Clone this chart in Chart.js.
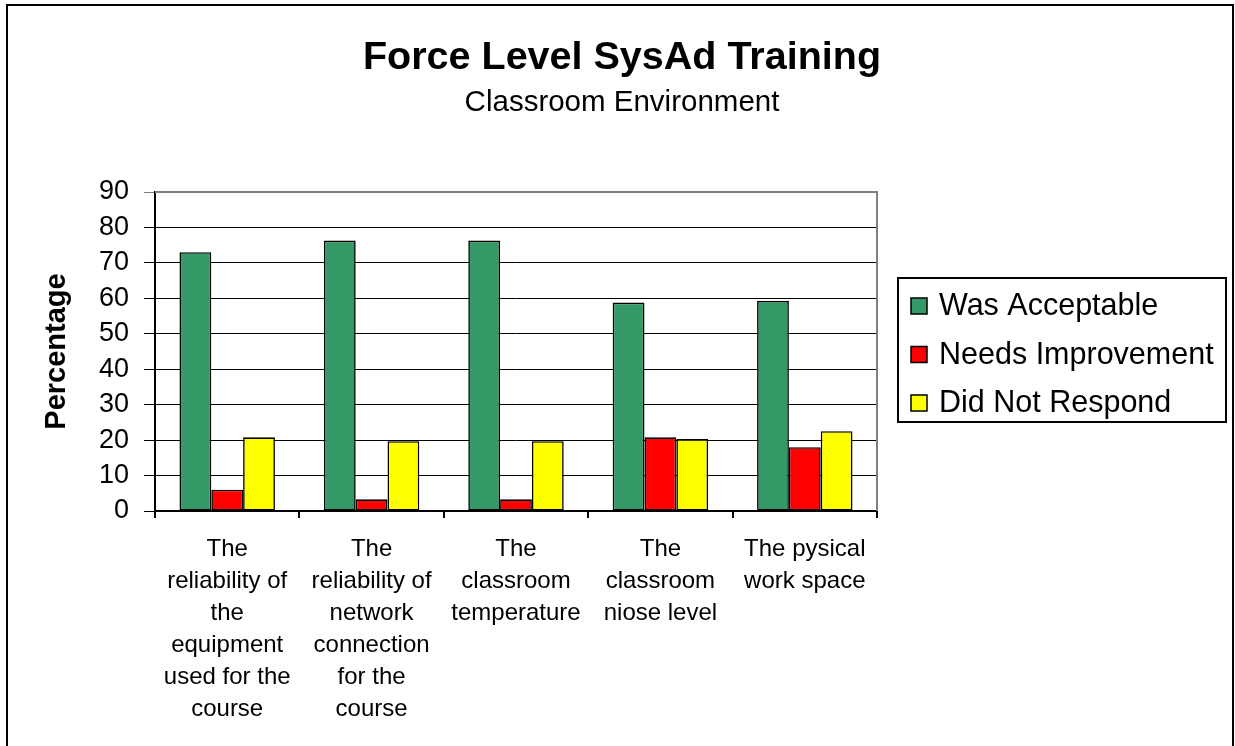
<!DOCTYPE html>
<html>
<head>
<meta charset="utf-8">
<title>Force Level SysAd Training</title>
<script src="https://cdn.jsdelivr.net/npm/chart.js@4/dist/chart.umd.min.js"></script>
<style>
  html, body { margin: 0; padding: 0; background: #fff; }
  #wrap { width: 1235px; height: 746px; }
</style>
</head>
<body>
<div id="wrap"><canvas id="myChart" width="1235" height="746"></canvas></div>
<script>
// categories (multi-line labels as in the original)
const categories = [
    ['The', 'reliability of', 'the', 'equipment', 'used for the', 'course'],
    ['The', 'reliability of', 'network', 'connection', 'for the', 'course'],
    ['The', 'classroom', 'temperature'],
    ['The', 'classroom', 'niose level'],
    ['The pysical', 'work space'],
];

const seriesNames = ['Was Acceptable', 'Needs Improvement', 'Did Not Respond'];

const wasAcceptable = [73, 76.3, 76.3, 58.8, 59.3];
const needsImprovement = [6, 3.3, 3.3, 20.8, 18];
const didNotRespond = [20.8, 19.7, 19.7, 20.3, 22.5];

const yTicks = [0, 10, 20, 30, 40, 50, 60, 70, 80, 90];

const titleText = 'Force Level SysAd Training';
const subtitleText = 'Classroom Environment';

const FONT = '"Liberation Sans", Arial, sans-serif';
const colors = ['#339966', '#ff0000', '#ffff00'];

// outer frame, titles, plot border and boxed legend
const frame = {
    id: 'frame',
    beforeDatasetsDraw(chart) {
        const { ctx, chartArea } = chart;
        ctx.save();
        ctx.strokeStyle = '#808080';
        ctx.lineWidth = 2;
        ctx.beginPath();
        ctx.moveTo(chartArea.left, chartArea.top);
        ctx.lineTo(chartArea.right, chartArea.top);
        ctx.lineTo(chartArea.right, chartArea.bottom);
        ctx.stroke();
        ctx.restore();
    },
    afterDraw(chart) {
        const ctx = chart.ctx;
        ctx.save();
        ctx.strokeStyle = '#000';
        ctx.lineWidth = 2;
        ctx.strokeRect(7, 5, 1226, 800);

        // titles, centred on the whole frame
        ctx.fillStyle = '#000';
        ctx.textAlign = 'center';
        ctx.textBaseline = 'middle';
        ctx.font = 'bold 39.5px ' + FONT;
        ctx.fillText(titleText, 622, 58);
        ctx.font = '29.5px ' + FONT;
        ctx.fillText(subtitleText, 622, 103);

        // legend
        ctx.strokeRect(898, 278, 328, 144);
        ctx.font = '30.5px ' + FONT;
        ctx.textAlign = 'left';
        chart.data.datasets.forEach((ds, i) => {
            const cy = 306 + i * 48.5;
            ctx.fillStyle = ds.backgroundColor;
            ctx.fillRect(911, cy - 8, 16, 16);
            ctx.lineWidth = 1.5;
            ctx.strokeRect(911, cy - 8, 16, 16);
            ctx.fillStyle = '#000';
            ctx.fillText(ds.label, 939, cy + 1);
        });
        ctx.restore();
    }
};

const chartData = {
    labels: categories,
    datasets: [
        { label: seriesNames[0], data: wasAcceptable },
        { label: seriesNames[1], data: needsImprovement },
        { label: seriesNames[2], data: didNotRespond },
    ].map((d, i) => ({
        ...d,
        backgroundColor: colors[i],
        borderColor: '#000',
        borderWidth: 1.6,
        borderSkipped: false,
        categoryPercentage: 0.661,
        barPercentage: 1.0,
    })),
};

const options = {
    responsive: false,
    animation: false,
    layout: { padding: { left: 0, right: 358, top: 192, bottom: 0 } },
    plugins: {
        legend: { display: false },
        tooltip: { enabled: false },
        title: { display: false },
    },
    scales: {
        x: {
            grid: {
                drawOnChartArea: false,
                drawTicks: true,
                tickLength: 7,
                color: '#000',
                lineWidth: 2,
            },
            border: { color: '#000', width: 2 },
            ticks: {
                color: '#000',
                autoSkip: false,
                maxRotation: 0,
                minRotation: 0,
                padding: 15,
                font: { family: FONT, size: 24, lineHeight: 1.333 },
            },
            afterFit(scale) { scale.height = 235; },
        },
        y: {
            min: 0,
            max: 90,
            afterBuildTicks(scale) { scale.ticks = yTicks.map(v => ({ value: v })); },
            grid: {
                color: ctx => (ctx.tick && ctx.tick.value === 90 ? '#808080' : '#000'),
                lineWidth: 1,
                tickLength: 11,
            },
            border: { color: '#000', width: 2 },
            ticks: {
                color: '#000',
                padding: 15,
                font: { family: FONT, size: 27 },
            },
            title: {
                display: true,
                text: 'Percentage',
                color: '#000',
                font: { family: FONT, size: 29, weight: 'bold', lineHeight: 1.2 },
                padding: { top: 40, bottom: 0 },
            },
            afterFit(scale) { scale.width = 155; },
        },
    },
};

new Chart(document.getElementById('myChart'), {
    type: 'bar',
    data: chartData,
    options: options,
    plugins: [frame],
});
</script>
</body>
</html>
